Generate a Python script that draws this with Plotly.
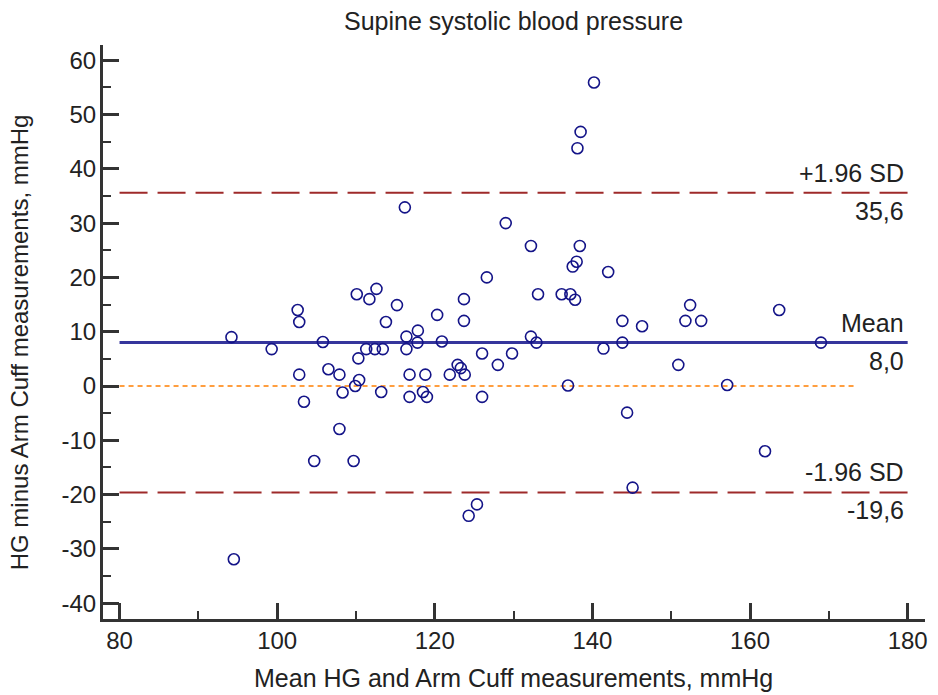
import plotly.graph_objects as go

# Bland-Altman data: mean of methods (x) and difference (y)
mean_values = [94.2, 94.5, 99.3, 102.6, 102.8, 102.8, 103.4, 104.7, 105.8, 106.5,
               107.9, 108.3, 107.9, 109.7, 110.1, 111.7, 112.6, 115.2, 113.8, 110.3,
               110.4, 109.9, 111.3, 112.4, 113.4, 113.2, 116.2, 116.4, 117.85, 117.8,
               116.4, 116.8, 118.8, 116.8, 118.5, 119.0, 120.3, 120.9, 121.9, 122.9,
               123.3, 123.8, 123.7, 123.7, 124.3, 125.35, 126.0, 126.0, 126.6, 128.0,
               129.0, 129.8, 132.2, 132.9, 132.2, 133.1, 136.1, 137.2, 137.8, 136.9,
               137.5, 138.0, 138.4, 138.1, 138.5, 140.2, 142.0, 141.4, 143.8, 143.8,
               144.4, 145.1, 146.3, 150.9, 151.8, 152.4, 153.8, 157.1, 161.9, 163.7,
               169.0]
diff_values = [9.0, -31.9, 6.8, 14.0, 11.8, 2.1, -2.9, -13.8, 8.1, 3.1,
               2.1, -1.2, -7.9, -13.8, 16.9, 16.0, 17.9, 14.9, 11.8, 5.1,
               1.1, 0.0, 6.8, 6.8, 6.8, -1.1, 32.9, 9.1, 10.2, 8.0,
               6.8, 2.1, 2.1, -2.0, -1.1, -2.0, 13.1, 8.2, 2.1, 3.9,
               3.3, 2.1, 16.0, 12.0, -23.9, -21.8, 6.0, -2.0, 20.0, 3.9,
               30.0, 6.0, 9.1, 8.0, 25.8, 16.9, 16.9, 16.9, 15.9, 0.1,
               22.0, 22.9, 25.8, 43.8, 46.8, 55.9, 21.0, 6.9, 12.0, 8.0,
               -4.9, -18.7, 11.0, 3.9, 12.0, 14.9, 12.0, 0.2, -12.0, 14.0,
               8.0]

mean_diff = 8.0
upper_loa = 35.6
lower_loa = -19.6
line_extent = [80, 180]
zero_extent = [80, 173.5]

mean_label = "8,0"
upper_label = "35,6"
lower_label = "-19,6"

x_tickvals = [80, 100, 120, 140, 160, 180]
x_ticktext = ["80", "100", "120", "140", "160", "180"]
y_tickvals = [-40, -30, -20, -10, 0, 10, 20, 30, 40, 50, 60]
y_ticktext = ["-40", "-30", "-20", "-10", "0", "10", "20", "30", "40", "50", "60"]

FONT = "Liberation Sans, Arial, sans-serif"
TXT = "#222222"

fig = go.Figure()

fig.add_trace(go.Scatter(x=zero_extent, y=[0, 0], mode="lines",
                         line=dict(color="#FF7F00", width=1.5, dash="5px,4px"),
                         hoverinfo="skip", showlegend=False))
fig.add_trace(go.Scatter(x=line_extent, y=[upper_loa, upper_loa], mode="lines",
                         line=dict(color="#9E2A2A", width=2, dash="28px,10px"),
                         showlegend=False))
fig.add_trace(go.Scatter(x=line_extent, y=[lower_loa, lower_loa], mode="lines",
                         line=dict(color="#9E2A2A", width=2, dash="28px,10px"),
                         showlegend=False))
fig.add_trace(go.Scatter(x=line_extent, y=[mean_diff, mean_diff], mode="lines",
                         line=dict(color="#35359C", width=3),
                         showlegend=False))
fig.add_trace(go.Scatter(x=mean_values, y=diff_values, mode="markers",
                         marker=dict(symbol="circle-open", size=11, color="#141488",
                                     line=dict(width=1.6, color="#141488")),
                         showlegend=False))

anns = []
for val, top, bottom in [(upper_loa, "+1.96 SD", upper_label),
                         (mean_diff, "Mean", mean_label),
                         (lower_loa, "-1.96 SD", lower_label)]:
    anns.append(dict(x=line_extent[1], y=val, xref="x", yref="y", text=top,
                     showarrow=False, xanchor="right", yanchor="middle", yshift=20,
                     xshift=-2, font=dict(family=FONT, size=25, color=TXT)))
    anns.append(dict(x=line_extent[1], y=val, xref="x", yref="y", text=bottom,
                     showarrow=False, xanchor="right", yanchor="middle", yshift=-18,
                     xshift=-2, font=dict(family=FONT, size=25, color=TXT)))

anns.append(dict(x=0.4994, y=1.0418, xref="paper", yref="paper",
                 text="Supine systolic blood pressure", showarrow=False,
                 xanchor="center", yanchor="middle",
                 font=dict(family=FONT, size=25, color=TXT)))
anns.append(dict(x=0.4994, y=-0.1028, xref="paper", yref="paper",
                 text="Mean HG and Arm Cuff measurements, mmHg", showarrow=False,
                 xanchor="center", yanchor="middle",
                 font=dict(family=FONT, size=25, color=TXT)))
anns.append(dict(x=-0.1006, y=0.4826, xref="paper", yref="paper",
                 text="HG minus Arm Cuff measurements, mmHg", showarrow=False,
                 textangle=-90, xanchor="center", yanchor="middle",
                 font=dict(family=FONT, size=24, color=TXT)))

axis_common = dict(showgrid=False, zeroline=False, showline=True,
                   linecolor="#333333", linewidth=3, ticks="inside",
                   ticklen=16, tickwidth=3, tickcolor="#333333",
                   tickfont=dict(family=FONT, size=24, color=TXT))

fig.update_layout(
    width=938, height=695,
    margin=dict(l=103, r=10, t=45, b=76),
    paper_bgcolor="white", plot_bgcolor="white",
    annotations=anns,
    hovermode=False,
    xaxis=dict(range=[77.9, 182.2], tickmode="array", tickvals=x_tickvals,
               ticktext=x_ticktext,
               minor=dict(ticks="inside", ticklen=8, tickwidth=1.5,
                          tickcolor="#333333", tick0=80, dtick=10, showgrid=False),
               ticklabelstandoff=-2, **axis_common),
    yaxis=dict(range=[-42.9, 62.8], tickmode="array", tickvals=y_tickvals,
               ticktext=y_ticktext,
               minor=dict(ticks="inside", ticklen=8, tickwidth=1.5,
                          tickcolor="#333333", tick0=0, dtick=5, showgrid=False),
               ticklabelstandoff=-1, **axis_common),
)

fig.write_html("out.html",
               config={"displayModeBar": False},
               post_script="document.body.style.margin='0px';"
                           "document.body.style.overflow='hidden';")
